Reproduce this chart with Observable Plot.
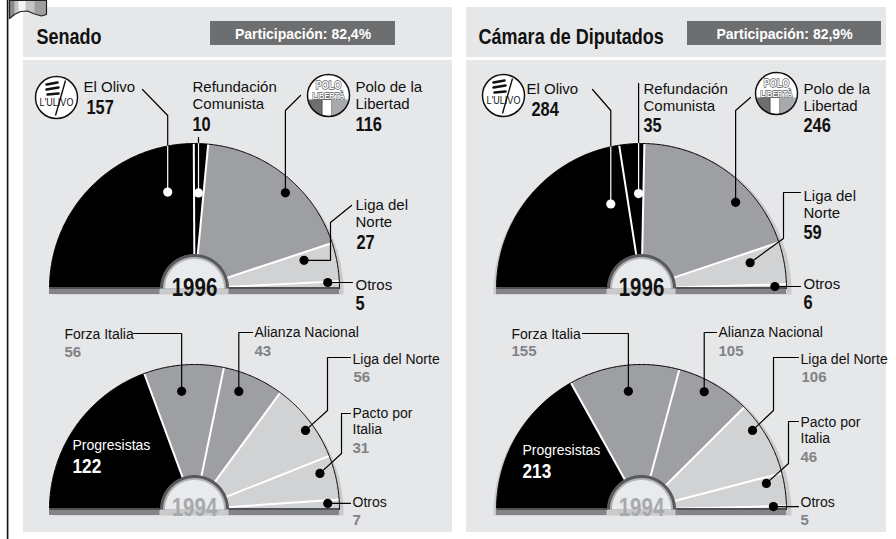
<!DOCTYPE html>
<html>
<head>
<meta charset="utf-8">
<script src="https://cdn.jsdelivr.net/npm/d3@7"></script>
<script src="https://cdn.jsdelivr.net/npm/@observablehq/plot@0.6"></script>
<style>
  html, body { margin: 0; padding: 0; background: #ffffff; overflow: hidden; }
</style>
</head>
<body>
<div id="chart"></div>
<script>
// ---------------- DATA ----------------
const chambers = ["Senado", "Cámara de Diputados"];
const turnout = ["82,4%", "82,9%"];
const yearLabels = [1996, 1994];

const parties1996 = ["El Olivo", "Refundación Comunista", "Polo de la Libertad", "Liga del Norte", "Otros"];
const blocs1996 = ["centroizquierda", "centroizquierda", "centroderecha", "otros", "otros"];
const senado1996 = [157, 10, 116, 27, 5];
const camara1996 = [284, 35, 246, 59, 6];

const parties1994 = ["Progresistas", "Forza Italia", "Alianza Nacional", "Liga del Norte", "Pacto por Italia", "Otros"];
const blocs1994 = ["centroizquierda", "centroderecha", "centroderecha", "otros", "otros", "otros"];
const senado1994 = [122, 56, 43, 56, 31, 7];
const camara1994 = [213, 155, 105, 106, 46, 5];

// ---------------- LAYOUT / STYLE ----------------
const W = 896, H = 539;
const SANS = "'Liberation Sans', Arial, Helvetica, sans-serif";
// condensed face: Liberation Sans compressed horizontally after rendering
const NARROW = "'Liberation Sans Narrow', 'Liberation Sans', Arial, sans-serif";
const NARROW_SCALE = 0.82;
const BG = "#e6e7e8", DARK = "#6d6e70";
const blocDomain = ["centroizquierda", "centroderecha", "otros"];
const blocRange = ["#000000", "#9d9fa2", "#d1d2d4"];
const R = 145, RIN = 34, RING = [34.5, 31.5, 29.5];
const CY = {1996: 288, 1994: 509};

const panels = [
  {x0: 23, x1: 452, titleX: 36, boxX0: 210, boxX1: 395, cx: 194, shadow: {dx: 4, dy: 4, dr: 0}},
  {x0: 466, x1: 886, titleX: 478, boxX0: 687, boxX1: 881, cx: 641, shadow: {dx: 1, dy: 4, dr: 4}}
];

const labelsSenado1996 = [
  {text: "El Olivo", x: 83, y: 91, nx: 86, ny: 113, t: 0.83, rf: 0.69, route: [[142, 89], [null, 115]]},
  {text: "Refundación\nComunista", x: 192, y: 108, nx: 192, ny: 130, t: 0.47, rf: 0.66, route: [[null, 137]]},
  {text: "Polo de la\nLibertad", x: 355, y: 108, nx: 355, ny: 130, t: 0.575, rf: 0.91, route: [[300, 95], [null, 110]]},
  {text: "Liga del\nNorte", x: 355, y: 226, nx: 356, ny: 248, t: 0.25, rf: 0.78, route: [[351, 205], [330, 222], [330, null]]},
  {text: "Otros", x: 355, y: 289, nx: 355, ny: 309, t: 0.1, rf: 0.92, route: [[352, null]]}
];
const labelsSenado1994 = [
  {text: "Progresistas", x: 72, y: 449, nx: 72, ny: 472, inside: true},
  {text: "Forza Italia", x: 64, y: 338, nx: 64, ny: 356, t: 0.44, rf: 0.82, route: [[133, 333], [null, 333]]},
  {text: "Alianza Nacional", x: 254, y: 336, nx: 254, ny: 355, t: 0.36, rf: 0.87, route: [[252, 332], [null, 332]]},
  {text: "Liga del Norte", x: 352, y: 363, nx: 353, ny: 381, t: 0.57, rf: 0.94, route: [[350, 357], [327, 357], [327, 410]]},
  {text: "Pacto por\nItalia", x: 352, y: 433, nx: 352, ny: 452, t: 0.32, rf: 0.90, route: [[350, 413], [341, 413], [341, 453]]},
  {text: "Otros", x: 352, y: 506, nx: 352, ny: 524, t: 0.35, rf: 0.92, route: [[350, null]]}
];
const labelsCamara1996 = [
  {text: "El Olivo", x: 526, y: 93, nx: 531, ny: 115, t: 0.863, rf: 0.62, route: [[592, 89], [null, 110]]},
  {text: "Refundación\nComunista", x: 643, y: 110, nx: 643, ny: 131, t: 0.71, rf: 0.655, route: [[null, 83]]},
  {text: "Polo de la\nLibertad", x: 803, y: 110, nx: 803, ny: 131, t: 0.66, rf: 0.88, route: [[750, 97], [null, 110]]},
  {text: "Liga del\nNorte", x: 803, y: 217, nx: 803, ny: 238, t: 0.31, rf: 0.77, route: [[800, 192], [783, 192], [783, 238]]},
  {text: "Otros", x: 803, y: 288, nx: 803, ny: 308, t: 0.5, rf: 0.92, route: [[800, null]]}
];
const labelsCamara1994 = [
  {text: "Progresistas", x: 522, y: 454, nx: 522, ny: 477, inside: true},
  {text: "Forza Italia", x: 511, y: 338, nx: 511, ny: 355, t: 0.515, rf: 0.82, route: [[582, 333], [null, 333]]},
  {text: "Alianza Nacional", x: 718, y: 336, nx: 718, ny: 355, t: 0.43, rf: 0.92, route: [[716, 332], [null, 332]]},
  {text: "Liga del Norte", x: 800, y: 363, nx: 801, ny: 381, t: 0.31, rf: 0.94, route: [[798, 357], [773, 357], [773, 410]]},
  {text: "Pacto por\nItalia", x: 800, y: 442, nx: 800, ny: 461, t: 0.21, rf: 0.88, route: [[798, 421], [788, 421], [788, 463]]},
  {text: "Otros", x: 800, y: 506, nx: 800, ny: 524, t: 0.1, rf: 0.91, route: [[798, null]]}
];

const charts = [
  {panel: 0, year: yearLabels[0], blocs: blocs1996, seats: senado1996, labels: labelsSenado1996},
  {panel: 0, year: yearLabels[1], blocs: blocs1994, seats: senado1994, labels: labelsSenado1994},
  {panel: 1, year: yearLabels[0], blocs: blocs1996, seats: camara1996, labels: labelsCamara1996},
  {panel: 1, year: yearLabels[1], blocs: blocs1994, seats: camara1994, labels: labelsCamara1994}
];

const logos = [
  {type: "ulivo", x: 56, y: 97, r: 21},
  {type: "polo", x: 328, y: 95, r: 21},
  {type: "ulivo", x: 503, y: 95, r: 21},
  {type: "polo", x: 776, y: 93, r: 21}
];

// ---------------- GEOMETRY (derived from data) ----------------
const rad = d => d * Math.PI / 180;
const pt = (cx, cy, r, deg) => [cx + r * Math.cos(rad(deg)), cy - r * Math.sin(rad(deg))];
function arcPts(cx, cy, r, a0, a1, step = 0.5) {
  const n = Math.max(2, Math.ceil(Math.abs(a0 - a1) / step) + 1);
  return d3.range(n).map(i => pt(cx, cy, r, a0 + (a1 - a0) * i / (n - 1)));
}

const sectorPts = [], shadowPts = [], seps = [], outlinePts = [], ringPts = [[], [], []];
const bars = [], barTops = [], whiteDots = [], blackDots = [];
const leaderBlack = [], leaderWhite = [];
const names96 = [], names94 = [], nums96 = [], nums94 = [], insideNames = [], insideNums = [], yearTexts = [];

charts.forEach((c, ci) => {
  const P = panels[c.panel];
  const cx = P.cx, cy = CY[c.year], sh = P.shadow;
  const total = d3.sum(c.seats);
  let acc = 0;
  const secs = c.seats.map((s, i) => {
    const a0 = 180 - acc / total * 180; acc += s;
    const a1 = 180 - acc / total * 180;
    return {i, a0, a1, bloc: c.blocs[i], seats: s};
  });
  const sp = arcPts(cx + sh.dx, cy + sh.dy, R + sh.dr, 0, 180);
  sp.push([cx + sh.dx - (R + sh.dr), cy + 6], [cx + sh.dx + (R + sh.dr), cy + 6]);
  sp.forEach(([x, y]) => shadowPts.push({id: ci, x, y}));
  secs.forEach(s => {
    const pts = [...arcPts(cx, cy, R, s.a0, s.a1), ...arcPts(cx, cy, RIN, s.a1, s.a0)];
    pts.forEach(([x, y]) => sectorPts.push({id: ci + "-" + s.i, bloc: s.bloc, x, y}));
    if (s.i > 0) {
      const [x1, y1] = pt(cx, cy, RIN, s.a0), [x2, y2] = pt(cx, cy, R, s.a0);
      seps.push({x1, y1, x2, y2});
    }
  });
  arcPts(cx, cy, R, 180, 0).forEach(([x, y]) => outlinePts.push({id: ci, x, y}));
  RING.forEach((r, k) => arcPts(cx, cy, r, 0, 180).forEach(([x, y]) => ringPts[k].push({id: ci, x, y})));
  bars.push({x1: cx - R, x2: cx - RING[0], y1: cy - 1, y2: cy + 6}, {x1: cx + RING[0], x2: cx + R, y1: cy - 1, y2: cy + 6});
  barTops.push({x1: cx - R, x2: cx - RING[0], y: cy - 0.5}, {x1: cx + RING[0], x2: cx + R, y: cy - 0.5});
  yearTexts.push({x: cx, y: cy + (c.year === 1996 ? 7 : 6), text: String(c.year), year: c.year});

  c.labels.forEach((lab, i) => {
    const s = secs[i];
    const nameRec = {x: lab.x, y: lab.y, text: lab.text};
    const numRec = {x: lab.nx, y: lab.ny, text: String(s.seats)};
    if (lab.inside) { insideNames.push(nameRec); insideNums.push(numRec); return; }
    (c.year === 1996 ? names96 : names94).push(nameRec);
    (c.year === 1996 ? nums96 : nums94).push(numRec);
    const ang = s.a0 - lab.t * (s.a0 - s.a1);
    const [dx, dy] = pt(cx, cy, lab.rf * R, ang);
    const white = s.bloc === blocDomain[0];
    (white ? whiteDots : blackDots).push({x: dx, y: dy});
    const route = lab.route.map(([x, y]) => [x ?? dx, y ?? dy]);
    const id = ci + "-" + i;
    const last = route[route.length - 1];
    let cross = null;
    if (white) {
      const fx = last[0] - cx, fy = last[1] - cy, ddx = dx - last[0], ddy = dy - last[1];
      const a = ddx * ddx + ddy * ddy, b = 2 * (fx * ddx + fy * ddy), cc = fx * fx + fy * fy - R * R;
      const disc = b * b - 4 * a * cc;
      if (cc > 0 && disc >= 0) {
        const t = (-b - Math.sqrt(disc)) / (2 * a);
        if (t > 0 && t < 1) cross = [last[0] + t * ddx, last[1] + t * ddy];
      }
    }
    const blackPath = cross ? [...route, cross] : [...route, [dx, dy]];
    blackPath.forEach(([x, y]) => leaderBlack.push({id, x, y}));
    if (cross) [cross, [dx, dy]].forEach(([x, y]) => leaderWhite.push({id, x, y}));
  });
});

const panelRects = panels.flatMap(p => [
  {x1: p.x0, x2: p.x1, y1: 7, y2: 57},
  {x1: p.x0, x2: p.x1, y1: 60, y2: 532}
]);
const boxes = panels.map((p, i) => ({x1: p.boxX0, x2: p.boxX1, y1: 21, y2: 45, cx: (p.boxX0 + p.boxX1) / 2, text: "Participación: " + turnout[i]}));
const titles = panels.map((p, i) => ({x: p.titleX, y: 43, text: chambers[i]}));

const flag = [[9, 0], [46, 0], [46, 14], [41, 15.5], [34, 13.5], [27, 10.5], [20, 11], [14, 14], [9, 18]].map(([x, y]) => ({x, y}));
const flagDark = [[9, 0], [14, 0], [14, 14], [9, 18]].map(([x, y]) => ({x, y}));
const flagLight = [[18, 0], [25, 0], [25, 10.6], [18, 12]].map(([x, y]) => ({x, y}));
const flagMid = [[34, 0], [46, 0], [46, 14], [41, 15.5], [34, 13.5]].map(([x, y]) => ({x, y}));

const poloStripes = [];
const ulivoLeaves = [], ulivoStems = [];
logos.forEach((L, li) => {
  if (L.type === "polo") {
    const top = L.y + 4, hw = Math.sqrt(L.r * L.r - 16);
    const cuts = [-hw, -6, 3, hw];
    const fills = ["d", "w", "l"];
    for (let k = 0; k < 3; k++) {
      const x0 = L.x + cuts[k], x1 = L.x + cuts[k + 1];
      const pts = [[x0, top], [x1, top]];
      d3.range(13).forEach(j => {
        const x = x1 + (x0 - x1) * j / 12;
        pts.push([x, L.y + Math.sqrt(Math.max(0, L.r * L.r - (x - L.x) ** 2))]);
      });
      pts.forEach(([x, y]) => poloStripes.push({id: li + "-" + k, kind: fills[k], x, y}));
    }
  } else {
    ulivoStems.push({x1: L.x + 9, y1: L.y - 17, x2: L.x - 1, y2: L.y + 18});
    [[-10, -13, 1, -15], [-10, -8, 2, -10], [-9, -3, 2, -4]].forEach(([a, b, c2, d]) =>
      ulivoLeaves.push({x1: L.x + a, y1: L.y + b, x2: L.x + c2, y2: L.y + d}));
  }
});

const line = (data, opts) => Plot.line(data, {x: "x", y: "y", z: "id", ...opts});
const txt = (data, opts) => Plot.text(data, {x: "x", y: "y", text: "text", textAnchor: "start", lineAnchor: "bottom", ...opts});

const chart = Plot.plot({
  width: W, height: H, margin: 0,
  x: {domain: [0, W], range: [0, W], axis: null},
  y: {domain: [0, H], range: [0, H], axis: null},
  color: {type: "ordinal", domain: blocDomain, range: blocRange},
  style: {background: "#ffffff", fontFamily: SANS},
  marks: [
    Plot.rect(panelRects, {x1: "x1", x2: "x2", y1: "y1", y2: "y2", fill: BG}),
    Plot.rect([{x1: 6.8, x2: 8.4, y1: 0, y2: H}], {x1: "x1", x2: "x2", y1: "y1", y2: "y2", fill: "#111"}),
    Plot.line(flag, {x: "x", y: "y", fill: "#c3c4c6", stroke: "none", curve: "linear-closed"}),
    Plot.line(flagDark, {x: "x", y: "y", fill: "#8a8b8d", stroke: "none", curve: "linear-closed"}),
    Plot.line(flagMid, {x: "x", y: "y", fill: "#9d9ea0", stroke: "none", curve: "linear-closed"}),
    Plot.line(flagLight, {x: "x", y: "y", fill: "#f4f4f4", stroke: "none", curve: "linear-closed"}),
    Plot.line(flag, {x: "x", y: "y", fill: "none", stroke: "#222", strokeWidth: 1.2, curve: "linear-closed"}),
    // headers
    txt(titles, {fontFamily: NARROW, fontWeight: "bold", fontSize: 22, fill: "#111"}),
    Plot.rect(boxes, {x1: "x1", x2: "x2", y1: "y1", y2: "y2", fill: DARK}),
    Plot.text(boxes, {x: "cx", y: 38, text: "text", lineAnchor: "bottom", fill: "#ffffff", fontWeight: "bold", fontSize: 14}),
    // semicircles
    line(shadowPts, {fill: "#c9cacc", stroke: "none", curve: "linear-closed"}),
    line(sectorPts, {fill: "bloc", stroke: "none", curve: "linear-closed"}),
    Plot.link(seps, {x1: "x1", y1: "y1", x2: "x2", y2: "y2", stroke: "#ffffff", strokeWidth: 2}),
    line(outlinePts, {stroke: "#000", strokeWidth: 1}),
    Plot.rect(bars, {x1: "x1", x2: "x2", y1: "y1", y2: "y2", fill: "#848588"}),
    Plot.link(barTops, {x1: "x1", x2: "x2", y1: "y", y2: "y", stroke: "#3f4042", strokeWidth: 1.5}),
    line(ringPts[0], {fill: "#58595b", stroke: "none", curve: "linear-closed"}),
    line(ringPts[1], {fill: "#b1b3b6", stroke: "none", curve: "linear-closed"}),
    line(ringPts[2], {fill: "#e9eaeb", stroke: "none", curve: "linear-closed"}),
    Plot.text(yearTexts.filter(d => d.year === 1996), {x: "x", y: "y", text: "text", lineAnchor: "bottom", fontFamily: NARROW, fontWeight: "bold", fontSize: 25, fill: "#111"}),
    Plot.text(yearTexts.filter(d => d.year === 1994), {x: "x", y: "y", text: "text", lineAnchor: "bottom", fontFamily: NARROW, fontWeight: "bold", fontSize: 25, fill: "#a7a9ac"}),
    // leaders & dots
    line(leaderBlack, {stroke: "#000", strokeWidth: 1.2, strokeLinejoin: "miter"}),
    line(leaderWhite, {stroke: "#ffffff", strokeWidth: 1.2}),
    Plot.dot(whiteDots, {x: "x", y: "y", r: 4.6, fill: "#ffffff", stroke: "none"}),
    Plot.dot(blackDots, {x: "x", y: "y", r: 4.6, fill: "#000", stroke: "none"}),
    // labels
    txt(names96, {fontSize: 15, lineHeight: 1.13, fill: "#111"}),
    txt(nums96, {fontFamily: NARROW, fontWeight: "bold", fontSize: 20, fill: "#111"}),
    txt(names94, {fontSize: 14, lineHeight: 1.13, fill: "#111"}),
    txt(nums94, {fontWeight: "bold", fontSize: 15, fill: "#808285"}),
    txt(insideNames, {fontSize: 14, fill: "#ffffff"}),
    txt(insideNums, {fontFamily: NARROW, fontWeight: "bold", fontSize: 21, fill: "#ffffff"}),
    // logos
    Plot.dot(logos, {x: "x", y: "y", r: 21, fill: "#ffffff", stroke: "none"}),
    line(poloStripes.filter(d => d.kind === "d"), {fill: "#6d6e70", stroke: "none", curve: "linear-closed"}),
    line(poloStripes.filter(d => d.kind === "w"), {fill: "#ffffff", stroke: "#333", strokeWidth: 0.6, curve: "linear-closed"}),
    line(poloStripes.filter(d => d.kind === "l"), {fill: "#a7a9ac", stroke: "none", curve: "linear-closed"}),
    Plot.text(logos.filter(d => d.type === "polo"), {x: "x", y: d => d.y - 7, text: () => "POLO", lineAnchor: "bottom", fontFamily: NARROW, fontWeight: "bold", fontSize: 11, fill: "#ffffff", stroke: "#58595b", strokeWidth: 1.4}),
    Plot.text(logos.filter(d => d.type === "polo"), {x: "x", y: d => d.y + 3.5, text: () => "LIBERTÀ", lineAnchor: "bottom", fontFamily: NARROW, fontWeight: "bold", fontSize: 9, fill: "#ffffff", stroke: "#58595b", strokeWidth: 1.3}),
    Plot.link(ulivoLeaves, {x1: "x1", y1: "y1", x2: "x2", y2: "y2", stroke: "#111", strokeWidth: 2.6, strokeLinecap: "round"}),
    Plot.link(ulivoStems, {x1: "x1", y1: "y1", x2: "x2", y2: "y2", stroke: "#111", strokeWidth: 1.4}),
    Plot.text(logos.filter(d => d.type === "ulivo"), {x: "x", y: d => d.y + 8, text: () => "L'ULIVO", lineAnchor: "bottom", fontFamily: NARROW, fontSize: 11, fill: "#111"}),
    Plot.dot(logos, {x: "x", y: "y", r: 21, fill: "none", stroke: "#111", strokeWidth: 1.5})
  ]
});

// synthesize the condensed face: compress texts drawn with the NARROW family horizontally
chart.querySelectorAll("g[font-family]").forEach(g => {
  if (!/Narrow/.test(g.getAttribute("font-family"))) return;
  g.querySelectorAll("text").forEach(t => {
    t.setAttribute("transform", (t.getAttribute("transform") || "") + ` scale(${NARROW_SCALE},1)`);
  });
});
document.getElementById("chart").appendChild(chart);
</script>
</body>
</html>
